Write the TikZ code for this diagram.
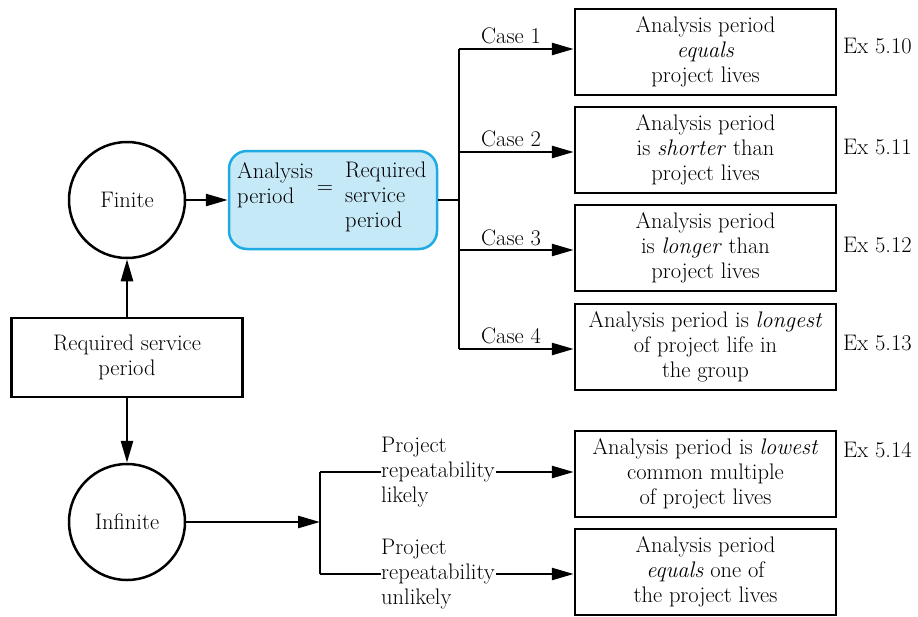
\documentclass[tikz,border=0pt]{standalone}
\usepackage{fontspec}
\usetikzlibrary{arrows.meta,positioning}
\definecolor{boxblue}{HTML}{C6E9F8}
\definecolor{edgeblue}{HTML}{1EAAE2}
\tikzset{myfont/.style={font=\fontsize{22.5}{25}\selectfont}}
\begin{document}
\begin{tikzpicture}[x=1pt,y=-1pt,
  txt/.style={myfont, inner sep=0pt},
  rbox/.style={draw, line width=2.5pt, minimum width=261pt, minimum height=86pt, align=center, myfont, inner sep=0pt},
  circ/.style={draw, circle, line width=2.5pt, minimum size=116pt, myfont, inner sep=0pt},
  conn/.style={line width=2.6pt},
  arr/.style={line width=2.6pt, -{Triangle[length=22pt,width=12pt]}},
  lbl/.style={myfont, inner sep=0pt}
]
\useasboundingbox (0,0) rectangle (918,616);
% left column
\node[circ] (fin) at (127,200) {Finite};
\node[circ] (inf) at (127,522) {Infinite};
\node[draw, line width=2.5pt, minimum width=231pt, minimum height=79pt, align=center, myfont, inner sep=0pt] (rsp) at (127,357.5) {Required service\\period};
\draw[arr] (rsp.north) -- (fin.south);
\draw[arr] (rsp.south) -- (inf.north);
% blue box
\node[draw=edgeblue, fill=boxblue, line width=2.5pt, rounded corners=18pt, minimum width=208pt, minimum height=98pt, inner sep=0pt] (blue) at (333,200) {};
\node[txt, align=left, anchor=north west] (bl) at (237,162) {Analysis\\period};
\node[txt] (beq) at (325,189) {=};
\node[txt, align=left, anchor=north west] (br) at (345,162) {Required\\service\\period};
\draw[arr] (fin.east) -- (blue.west);
% branch
\coordinate (bj) at (459,200);
\coordinate (b1) at (459,49);
\coordinate (b2) at (459,152);
\coordinate (b3) at (459,250);
\coordinate (b4) at (459,349);
\draw[conn] (blue.east) -- (bj);
\draw[conn] (b1) -- (b4);
% right boxes
\node[rbox] (r1) at (705.5,52) {Analysis period\\\textit{equals}\\project lives};
\node[rbox] (r2) at (705.5,150) {Analysis period\\is \textit{shorter} than\\project lives};
\node[rbox] (r3) at (705.5,248) {Analysis period\\is \textit{longer} than\\project lives};
\node[rbox] (r4) at (705.5,347) {Analysis period is \textit{longest}\\of project life in\\the group};
\node[rbox] (r5) at (705.5,474) {Analysis period is \textit{lowest}\\common multiple\\of project lives};
\node[rbox] (r6) at (705.5,572) {Analysis period\\\textit{equals} one of\\the project lives};
\draw[arr] (b1) -- (b1 -| r1.west);
\draw[arr] (b2) -- (b2 -| r2.west);
\draw[arr] (b3) -- (b3 -| r3.west);
\draw[arr] (b4) -- (b4 -| r4.west);
\node[lbl] (c1) at (511,36) {Case 1};
\node[lbl] (c2) at (511,139) {Case 2};
\node[lbl] (c3) at (511,238) {Case 3};
\node[lbl] (c4) at (511,336) {Case 4};
\node[lbl, anchor=west] (e1) at (843,46) {Ex 5.10};
\node[lbl, anchor=west] (e2) at (843,147) {Ex 5.11};
\node[lbl, anchor=west] (e3) at (843,245) {Ex 5.12};
\node[lbl, anchor=west] (e4) at (843,343) {Ex 5.13};
\node[lbl, anchor=west] (e5) at (843,450) {Ex 5.14};
% infinite branch
\coordinate (ij) at (320,522);
\coordinate (i1) at (320,472);
\coordinate (i2) at (320,574);
\draw[arr] (inf.east) -- (ij);
\draw[conn] (i1) -- (i2);
\node[lbl, align=left, anchor=west] (p1) at (381,472) {Project\\repeatability\\likely};
\node[lbl, align=left, anchor=west] (p2) at (381,574) {Project\\repeatability\\unlikely};
\draw[conn] (i1) -- (i1 -| p1.west);
\draw[conn] (i2) -- (i2 -| p2.west);
\draw[arr] ([xshift=1pt]i1 -| p1.east) -- (i1 -| r5.west);
\draw[arr] ([xshift=1pt]i2 -| p2.east) -- (i2 -| r6.west);
\end{tikzpicture}
\end{document}
